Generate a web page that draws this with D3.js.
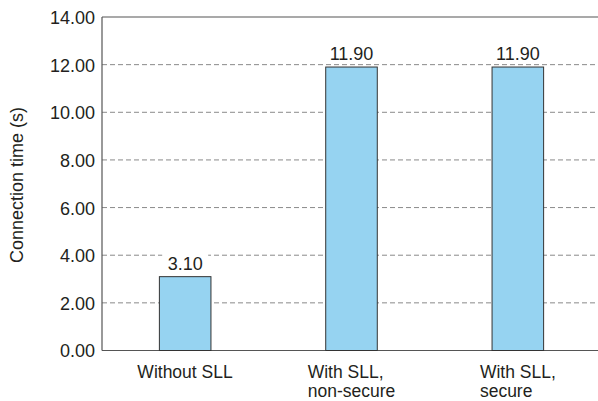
<!DOCTYPE html>
<html>
<head>
<meta charset="utf-8">
<script src="https://cdn.jsdelivr.net/npm/d3@7"></script>
<style>
  html, body { margin: 0; padding: 0; background: #fff; }
  svg { display: block; }
  text { font-family: "Liberation Sans", Arial, Helvetica, sans-serif; fill: #231f20; }
</style>
</head>
<body>
<svg id="chart" width="598" height="401"></svg>
<script>
// Connection time for each setup
const categories = [["Without SLL"], ["With SLL,", "non-secure"], ["With SLL,", "secure"]];
const connectionTimes = [3.10, 11.90, 11.90];
const yTicks = [0, 2, 4, 6, 8, 10, 12, 14];
const yTitle = "Connection time (s)";

const svg = d3.select("#chart");
const plotLeft = 102, plotRight = 601, plotTop = 17, plotBottom = 350.5;

const x = d3.scaleBand()
  .domain(d3.range(categories.length))
  .range([plotLeft, plotRight])
  .paddingInner(0.69)
  .paddingOuter(0.345);

const y = d3.scaleLinear().domain([0, 14]).range([plotBottom, plotTop]);

// dashed grid lines
svg.append("g")
  .selectAll("line")
  .data(yTicks.filter(t => t > 0 && t < 14))
  .join("line")
  .attr("x1", plotLeft).attr("x2", 598)
  .attr("y1", d => y(d)).attr("y2", d => y(d))
  .attr("stroke", "#8a8a8a")
  .attr("stroke-width", 1)
  .attr("stroke-dasharray", "5,3");

// frame: top, left and bottom lines
svg.append("line").attr("x1", plotLeft).attr("x2", 598).attr("y1", y(14)).attr("y2", y(14))
  .attr("stroke", "#555").attr("stroke-width", 1.2);
svg.append("line").attr("x1", plotLeft).attr("x2", 598).attr("y1", y(0)).attr("y2", y(0))
  .attr("stroke", "#555").attr("stroke-width", 1.2);
svg.append("line").attr("x1", plotLeft).attr("x2", plotLeft).attr("y1", y(14)).attr("y2", y(0))
  .attr("stroke", "#555").attr("stroke-width", 1.2);

// y axis tick labels
const yAxis = d3.axisLeft(y).tickValues(yTicks).tickSize(0).tickPadding(7)
  .tickFormat(d3.format(".2f"));
const yg = svg.append("g").attr("transform", `translate(${plotLeft},0)`).call(yAxis);
yg.select(".domain").remove();
yg.selectAll("text").style("font-size", "18px").attr("fill", "#231f20")
  .attr("font-family", "Liberation Sans, Arial, sans-serif").attr("dy", "0.36em");

// y axis title
svg.append("text")
  .attr("transform", `translate(23,185) rotate(-90)`)
  .attr("text-anchor", "middle")
  .style("font-size", "18px")
  .text(yTitle);

// bars
svg.append("g")
  .selectAll("rect")
  .data(connectionTimes)
  .join("rect")
  .attr("x", (d, i) => x(i))
  .attr("y", d => y(d))
  .attr("width", x.bandwidth())
  .attr("height", d => y(0) - y(d))
  .attr("fill", "#96d3f1")
  .attr("stroke", "#333")
  .attr("stroke-width", 1);

// value labels on a white backing
const vl = svg.append("g").selectAll("g")
  .data(connectionTimes)
  .join("g")
  .attr("transform", (d, i) => `translate(${x(i) + x.bandwidth() / 2},${y(d) - 7})`);
vl.append("rect")
  .attr("x", -23).attr("y", -16).attr("width", 46).attr("height", 17)
  .attr("fill", "#fff");
vl.append("text")
  .attr("text-anchor", "middle")
  .style("font-size", "18px")
  .text(d => d3.format(".2f")(d));

// category labels: a left-aligned block centred under each bar
const cg = svg.append("g").selectAll("text")
  .data(categories)
  .join("text")
  .style("font-size", "17.5px");
cg.each(function (lines, i) {
  const t = d3.select(this);
  lines.forEach((ln, k) => {
    t.append("tspan").attr("x", 0).attr("y", 377.5 + k * 19.5).text(ln);
  });
  const w = this.getBBox().width;
  t.attr("transform", `translate(${x(i) + x.bandwidth() / 2 - w / 2},0)`);
});
</script>
</body>
</html>
